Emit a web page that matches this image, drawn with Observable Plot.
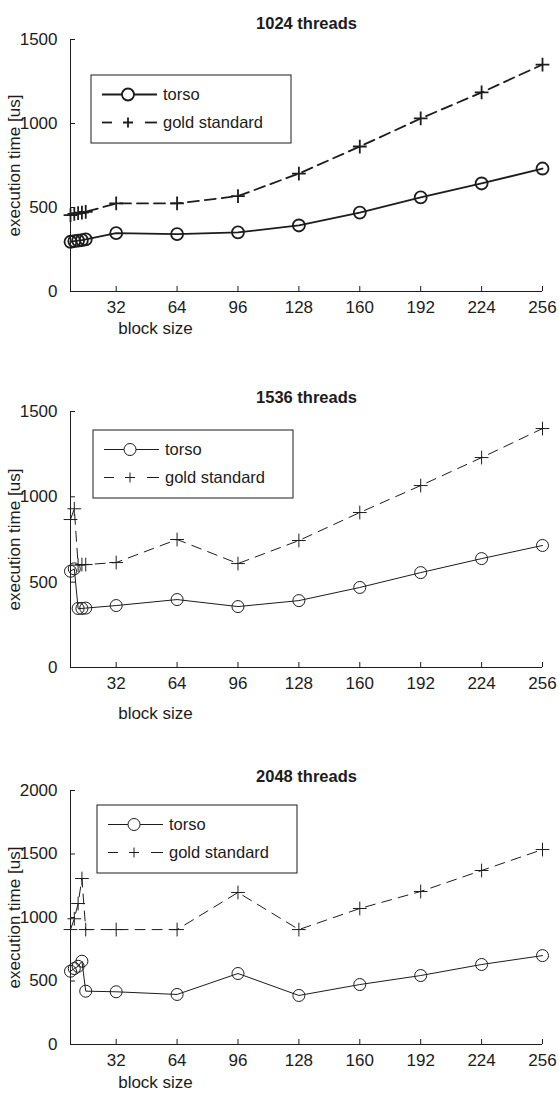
<!DOCTYPE html>
<html><head><meta charset="utf-8">
<script src="https://cdn.jsdelivr.net/npm/d3@7"></script>
<script src="https://cdn.jsdelivr.net/npm/@observablehq/plot@0.6"></script>
<style>
body{margin:0;background:#fff;}
#chart{width:559px;}
#chart svg{display:block;}
</style></head><body><div id="chart"></div>
<script>
// ---- data ----
const blockSizes = [8, 10, 12, 14, 16, 32, 64, 96, 128, 160, 192, 224, 256];
const xTicks = [32, 64, 96, 128, 160, 192, 224, 256];
const titles = ["1024 threads", "1536 threads", "2048 threads"];
const seriesNames = ["torso", "gold standard"];
const xLabel = "block size";
const yLabel = "execution time [us]";

const torso1024 = [296, 300, 303, 306, 310, 347, 342, 352, 393, 470, 560, 643, 732];
const gold1024  = [455, 462, 466, 470, 474, 524, 524, 568, 702, 863, 1030, 1185, 1351];
const torso1536 = [564, 578, 346, 346, 348, 363, 398, 357, 392, 469, 556, 638, 715];
const gold1536  = [867, 930, 600, 603, 603, 615, 750, 609, 744, 908, 1066, 1230, 1400];
const torso2048 = [577, 598, 616, 656, 420, 415, 394, 559, 386, 472, 543, 630, 700];
const gold2048  = [905, 990, 1110, 1307, 905, 905, 905, 1197, 905, 1071, 1205, 1370, 1535];

const yTicks1500 = [0, 500, 1000, 1500];
const yTicks2000 = [0, 500, 1000, 1500, 2000];

// ---- layout/style ----
const ink = "#1c1c1c";
const font = "'Liberation Sans', Arial, Helvetica, sans-serif";

const panels = [
  {title: titles[0], torso: torso1024, gold: gold1024, yMax: 1500, yTicks: yTicks1500,
   height: 366, mt: 39, mb: 75, sw: 1.8, dash: "11,6", titleDy: -22, xlabDy: 42, legend: [91, 75]},
  {title: titles[1], torso: torso1536, gold: gold1536, yMax: 1500, yTicks: yTicks1500,
   height: 367, mt: 45, mb: 66, sw: 1, dash: "10,7", titleDy: -20, xlabDy: 51, legend: [93, 64]},
  {title: titles[2], torso: torso2048, gold: gold2048, yMax: 2000, yTicks: yTicks2000,
   height: 366, mt: 57, mb: 55, sw: 1, dash: "10,7", titleDy: -20, xlabDy: 43, legend: [97, 72]}
];

const chart = document.getElementById("chart");

panels.forEach(p => {
  const torsoData = blockSizes.map((b, i) => ({x: b, y: p.torso[i]}));
  const goldData = blockSizes.map((b, i) => ({x: b, y: p.gold[i]}));
  const plot = Plot.plot({
    width: 559, height: p.height,
    marginLeft: 70, marginRight: 17, marginTop: p.mt, marginBottom: p.mb,
    style: {fontFamily: font, fontSize: "17px", color: ink, background: "#fff", overflow: "visible"},
    x: {domain: [blockSizes[0], xTicks[xTicks.length - 1]]},
    y: {domain: [0, p.yMax]},
    marks: [
      Plot.ruleY([0], {stroke: ink, strokeWidth: 1}),
      Plot.ruleX([blockSizes[0]], {stroke: ink, strokeWidth: 1}),
      Plot.axisX({ticks: xTicks, tickSize: -5, tickPadding: 14, tickFormat: d => String(d), label: null, fontSize: 17}),
      Plot.axisY({ticks: p.yTicks, tickSize: -5, tickPadding: 18, tickFormat: d => String(d), label: null, fontSize: 17}),
      Plot.line(goldData, {x: "x", y: "y", stroke: ink, strokeWidth: p.sw, strokeDasharray: p.dash}),
      Plot.dot(goldData, {x: "x", y: "y", symbol: "plus", r: 4.5, stroke: ink, fill: "none", strokeWidth: p.sw}),
      Plot.line(torsoData, {x: "x", y: "y", stroke: ink, strokeWidth: p.sw}),
      Plot.dot(torsoData, {x: "x", y: "y", r: 6, stroke: ink, fill: "none", strokeWidth: p.sw}),
      Plot.text([p.title], {text: d => d, frameAnchor: "top", dy: p.titleDy, fontWeight: "bold", fontSize: 16.5, fill: ink}),
      Plot.text([xLabel], {text: d => d, frameAnchor: "bottom-left", textAnchor: "middle", dx: 85, dy: p.xlabDy, fontSize: 17, fill: ink}),
      Plot.text([yLabel], {text: d => d, frameAnchor: "left", textAnchor: "middle", dx: -56, rotate: -90, fontSize: 17, fill: ink})
    ]
  });

  // legend
  const svg = d3.select(plot);
  const g = svg.append("g").attr("transform", `translate(${p.legend[0]},${p.legend[1]})`)
    .attr("text-anchor", "start");
  g.append("rect").attr("width", 200).attr("height", 68)
    .attr("fill", "#fff").attr("stroke", ink).attr("stroke-width", 1);
  const y1 = 19.5, y2 = 47.5;
  g.append("line").attr("x1", 11).attr("x2", 66).attr("y1", y1).attr("y2", y1)
    .attr("stroke", ink).attr("stroke-width", p.sw);
  g.append("circle").attr("cx", 37).attr("cy", y1).attr("r", 6)
    .attr("fill", "#fff").attr("stroke", ink).attr("stroke-width", p.sw);
  g.append("text").attr("x", 72).attr("y", y1).attr("dy", "0.35em").attr("fill", ink)
    .attr("font-size", 16.5).text(seriesNames[0]);
  [[11, 21], [54, 66]].forEach(([a, b]) =>
    g.append("line").attr("x1", a).attr("x2", b).attr("y1", y2).attr("y2", y2)
      .attr("stroke", ink).attr("stroke-width", p.sw));
  g.append("path").attr("d", `M32,${y2}h10M37,${y2 - 5}v10`)
    .attr("stroke", ink).attr("stroke-width", p.sw).attr("fill", "none");
  g.append("text").attr("x", 72).attr("y", y2).attr("dy", "0.35em").attr("fill", ink)
    .attr("font-size", 16.5).text(seriesNames[1]);

  chart.appendChild(plot);
});
</script>
</body></html>
